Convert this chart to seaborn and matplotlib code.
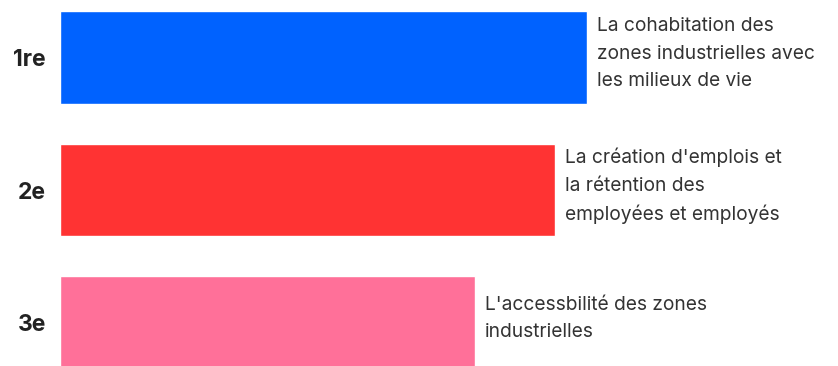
import matplotlib
matplotlib.use("Agg")
import matplotlib.pyplot as plt
import pandas as pd
import seaborn as sns

# rangs et priorités
rangs = ["1re", "2e", "3e"]
valeurs = [527, 495, 415]
libelles = [
    "La cohabitation des\nzones industrielles avec\nles milieux de vie",
    "La création d'emplois et\nla rétention des\nemployées et employés",
    "L'accessbilité des zones\nindustrielles",
]
couleurs = ["#0062FF", "#FF3333", "#FF7099"]

df = pd.DataFrame({"Rang": rangs, "Valeur": valeurs})

sns.set_style("white")
plt.rcParams["font.family"] = ["Inter", "DejaVu Sans"]

fig = plt.figure(figsize=(8.38, 3.66), dpi=100)
ax = fig.add_axes([60 / 838, 0, 778 / 838, 1])

sns.barplot(data=df, x="Valeur", y="Rang", hue="Rang", palette=couleurs,
            orient="h", width=0.70, saturation=1, legend=False, ax=ax)

ax.set_xlim(0, 778)
ax.set_ylim(2.328, -0.434)
ax.set_xlabel("")
ax.set_ylabel("")
ax.set_xticks([])
sns.despine(ax=ax, left=True, bottom=True)
ax.tick_params(axis="y", length=0, pad=10)
for lab in ax.get_yticklabels():
    lab.set_fontsize(16.5)
    lab.set_fontweight("bold")
    lab.set_color("#222222")

for i, (v, t) in enumerate(zip(valeurs, libelles)):
    ax.text(v + 10, i - 0.03, t, ha="left", va="center", fontsize=13.8,
            color="#333333", linespacing=1.65)

fig.savefig("out.png", dpi=100)
